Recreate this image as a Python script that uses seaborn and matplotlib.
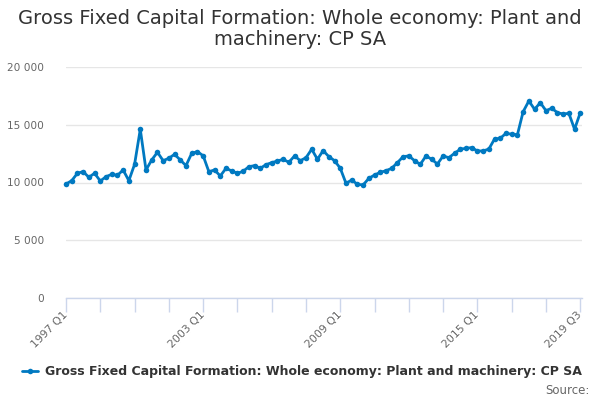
import pandas as pd
import numpy as np
import seaborn as sns
import matplotlib.pyplot as plt

# quarterly values, 1997 Q1 .. 2019 Q3 (GBP million)
quarters = [f"{y} Q{q}" for y in range(1997, 2020) for q in range(1, 5)][:91]
values = [
    9870, 10160, 10800, 10940, 10450, 10800, 10130, 10500, 10710, 10620, 11085, 10160,
    11570, 14610, 11085, 11950, 12620, 11890, 12100, 12440, 11950, 11460, 12530, 12670,
    12320, 10940, 11085, 10565, 11230, 11000, 10800, 10970, 11370, 11460, 11230, 11545,
    11720, 11860, 12010, 11750, 12300, 11890, 12150, 12880, 12010, 12760, 12240, 11890,
    11230, 9930, 10220, 9840, 9790, 10360, 10650, 10880, 11020, 11230, 11720, 12240,
    12300, 11890, 11570, 12300, 12010, 11600, 12300, 12150, 12530, 12880, 12960, 13020,
    12730, 12730, 12900, 13770, 13830, 14260, 14180, 14140, 16130, 17060, 16340, 16910,
    16220, 16430, 16050, 15930, 15990, 14610, 16050,
]
label_quarters = ["1997 Q1", "2003 Q1", "2009 Q1", "2015 Q1", "2019 Q3"]
series_name = "Gross Fixed Capital Formation: Whole economy: Plant and machinery: CP SA"

df = pd.DataFrame({"quarter": quarters, "value": values})
df["idx"] = np.arange(len(df))

sns.set_theme(style="white")
plt.rcParams["font.family"] = ["DejaVu Sans"]

fig = plt.figure(figsize=(6, 4), dpi=100)
ax = fig.add_axes([0.11, 0.255, 0.86, 0.5775])

blue = "#0079c1"
sns.lineplot(data=df, x="idx", y="value", ax=ax, color=blue, linewidth=2,
             marker="o", markersize=4, markeredgewidth=0, label=series_name,
             clip_on=False)

ax.set_xlim(0, 90.3)
ax.set_ylim(0, 20000)
ax.set_yticks([0, 5000, 10000, 15000, 20000])
ax.set_yticklabels(["0", "5 000", "10 000", "15 000", "20 000"])
ax.yaxis.grid(True, color="#e6e6e6", linewidth=1)
ax.set_axisbelow(True)

label_pos = [quarters.index(q) for q in label_quarters]
ax.set_xticks(label_pos)
ax.set_xticklabels(label_quarters, rotation=45, ha="right", va="center",
                   rotation_mode="anchor")
ax.set_xticks(np.arange(0, 91, 6), minor=True)
ax.tick_params(axis="x", which="both", length=10, width=1, color="#ccd6eb",
               direction="out", bottom=True, labelsize=7.8, labelcolor="#666666", pad=1)
ax.tick_params(axis="y", length=0, labelsize=7.6, labelcolor="#666666", pad=16)

for s in ["top", "right", "left"]:
    ax.spines[s].set_visible(False)
ax.spines["bottom"].set_color("#ccd6eb")
ax.spines["bottom"].set_linewidth(1)
ax.set_xlabel("")
ax.set_ylabel("")

fig.suptitle("Gross Fixed Capital Formation: Whole economy: Plant and\nmachinery: CP SA",
             x=0.5, y=0.978, fontsize=14, color="#333333", linespacing=1.15)

leg = ax.legend(loc="center", frameon=False, handlelength=1.3, handletextpad=0.5,
                prop={"weight": "bold", "size": 9})
leg.set_bbox_to_anchor((0.503, 0.07), transform=fig.transFigure)
for t in leg.get_texts():
    t.set_color("#333333")

fig.text(0.983, 0.025, "Source:", ha="right", va="center", fontsize=8.5, color="#666666")

fig.savefig("out.png", dpi=100)
